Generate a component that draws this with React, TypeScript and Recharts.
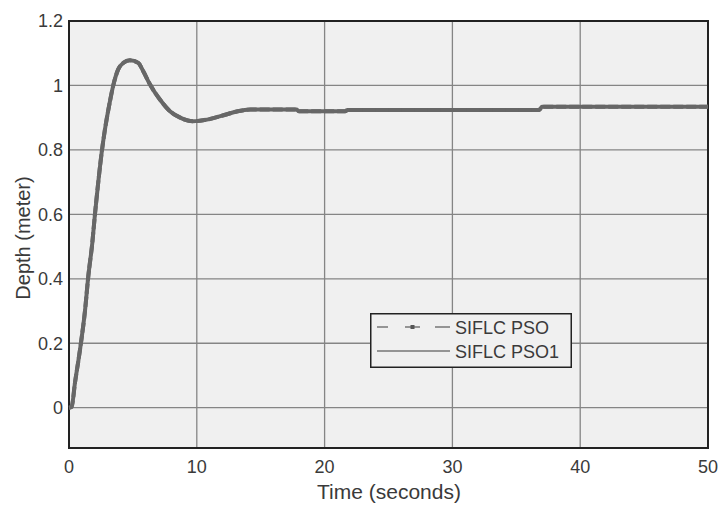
import React from 'react';
import {
  LineChart,
  Line,
  XAxis,
  YAxis,
  CartesianGrid,
  Legend,
  Label,
  ReferenceArea,
} from 'recharts';

// readings taken off the plot
const timeSec = [
  0, 0.2, 0.47, 0.86, 1.25, 1.51, 1.82, 2.03, 2.29, 2.55, 2.8, 3.2, 3.45, 3.85, 4.25, 4.77,
  5.42, 5.81, 6.34, 7.1, 7.9, 8.7, 9.7, 10.8, 12.3, 13.2, 14.2, 17.8, 18.0, 21.6, 21.8, 36.8,
  37.0, 50,
];
const depthPso = [
  0, 0.002, 0.078, 0.18, 0.3, 0.408, 0.51, 0.6, 0.7, 0.79, 0.86, 0.95, 0.998, 1.05, 1.07,
  1.078, 1.07, 1.044, 1.003, 0.957, 0.92, 0.9, 0.889, 0.894, 0.91, 0.92, 0.925, 0.925, 0.92,
  0.92, 0.924, 0.924, 0.934, 0.934,
];
const depthPso1 = [
  0, 0.002, 0.078, 0.18, 0.3, 0.408, 0.51, 0.6, 0.7, 0.79, 0.86, 0.95, 0.998, 1.05, 1.07,
  1.078, 1.07, 1.044, 1.003, 0.957, 0.92, 0.9, 0.889, 0.894, 0.91, 0.92, 0.925, 0.925, 0.92,
  0.92, 0.924, 0.924, 0.934, 0.934,
];
const seriesNames = ['SIFLC PSO', 'SIFLC PSO1'];
const xTicks = [0, 10, 20, 30, 40, 50];
const yTicks = [0, 0.2, 0.4, 0.6, 0.8, 1, 1.2];

const data = timeSec.map((t, i) => ({ t, pso: depthPso[i], pso1: depthPso1[i] }));

const FONT = '"Liberation Sans", Arial, sans-serif';
const TEXT = '#3a3a3a';
const CURVE = '#676767';

const renderLegend = () => (
  <svg width={202} height={55} style={{ display: 'block' }}>
    <rect x={0.75} y={0.75} width={200.5} height={53.5} fill="#f0f0f0" stroke="#222" strokeWidth={1.5} />
    <line x1={7} y1={14} x2={18} y2={14} stroke="#777" strokeWidth={1.5} />
    <line x1={35} y1={14} x2={50} y2={14} stroke="#777" strokeWidth={1.5} />
    <rect x={40.5} y={12} width={4} height={4} fill="#555" />
    <line x1={65} y1={14} x2={80} y2={14} stroke="#777" strokeWidth={1.5} />
    <line x1={7} y1={38} x2={80} y2={38} stroke="#777" strokeWidth={1.5} />
    <text x={85} y={20.5} fontFamily={FONT} fontSize={18} fill={TEXT}>{seriesNames[0]}</text>
    <text x={85} y={44.5} fontFamily={FONT} fontSize={18} fill={TEXT}>{seriesNames[1]}</text>
  </svg>
);

export default function App() {
  return (
    <div style={{ position: 'absolute', left: 0, top: 0, width: 723, height: 507, background: '#fff' }}>
      <LineChart
        width={723}
        height={507}
        data={data}
        margin={{ top: 21, right: 15, left: 0, bottom: 0 }}
      >
        <CartesianGrid fill="#f0f0f0" stroke="#858585" strokeWidth={1.3} />
        <XAxis
          dataKey="t"
          type="number"
          domain={[0, 50]}
          ticks={xTicks}
          height={59}
          tickSize={0}
          tickMargin={12}
          axisLine={false}
          tick={{ fontFamily: FONT, fontSize: 18, fill: TEXT }}
        >
          <Label
            content={() => (
              <text x={389} y={499} textAnchor="middle" fontFamily={FONT} fontSize={21} fill={TEXT}>
                Time (seconds)
              </text>
            )}
          />
        </XAxis>
        <YAxis
          type="number"
          domain={[-0.125, 1.2]}
          ticks={yTicks}
          width={69}
          tickSize={0}
          tickMargin={6}
          axisLine={false}
          allowDataOverflow
          tick={{ fontFamily: FONT, fontSize: 18, fill: TEXT }}
        >
          <Label
            content={() => (
              <text
                transform="translate(30,238) rotate(-90)"
                textAnchor="middle"
                fontFamily={FONT}
                fontSize={20}
                fill={TEXT}
              >
                Depth (meter)
              </text>
            )}
          />
        </YAxis>
        <ReferenceArea
          x1={0}
          x2={50}
          y1={-0.125}
          y2={1.2}
          fill="none"
          stroke="#222"
          strokeWidth={2}
          ifOverflow="visible"
        />
        <Line
          type="monotone"
          dataKey="pso1"
          name={seriesNames[1]}
          stroke={CURVE}
          strokeWidth={4}
          dot={false}
          isAnimationActive={false}
        />
        <Line
          type="monotone"
          dataKey="pso"
          name={seriesNames[0]}
          stroke={CURVE}
          strokeWidth={4}
          strokeDasharray="10 3"
          dot={false}
          isAnimationActive={false}
        />
        <Legend
          layout="vertical"
          align="center"
          verticalAlign="middle"
          content={renderLegend}
          wrapperStyle={{ left: 370, top: 313, width: 202, height: 55 }}
        />
      </LineChart>
    </div>
  );
}
